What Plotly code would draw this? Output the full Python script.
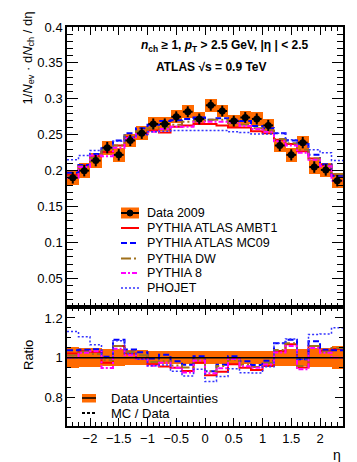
import numpy as np
import plotly.graph_objects as go
from plotly.subplots import make_subplots

# pseudorapidity bins
eta_edges = [-2.4, -2.2, -2.0, -1.8, -1.6, -1.4, -1.2, -1.0, -0.8, -0.6, -0.4, -0.2,
             0.0, 0.2, 0.4, 0.6, 0.8, 1.0, 1.2, 1.4, 1.6, 1.8, 2.0, 2.2, 2.4]
eta = [-2.3, -2.1, -1.9, -1.7, -1.5, -1.3, -1.1, -0.9, -0.7, -0.5, -0.3, -0.1,
       0.1, 0.3, 0.5, 0.7, 0.9, 1.1, 1.3, 1.5, 1.7, 1.9, 2.1, 2.3]

# data 2009
data = [0.190, 0.200, 0.214, 0.232, 0.222, 0.242, 0.252, 0.265, 0.265, 0.275, 0.282, 0.272,
        0.291, 0.283, 0.269, 0.274, 0.272, 0.263, 0.235, 0.222, 0.239, 0.205, 0.201, 0.186]
err_tot = [0.0105, 0.010, 0.010, 0.0098, 0.0098, 0.0095, 0.0095, 0.0093, 0.0092, 0.0092, 0.009, 0.009,
           0.009, 0.009, 0.009, 0.0092, 0.0092, 0.0093, 0.0095, 0.0095, 0.0098, 0.010, 0.010, 0.0105]
err_stat = [0.008, 0.008, 0.008, 0.008, 0.008, 0.0078, 0.0078, 0.0077, 0.0077, 0.0076, 0.0076, 0.0076,
            0.0076, 0.0076, 0.0076, 0.0076, 0.0077, 0.0077, 0.0078, 0.0078, 0.008, 0.008, 0.008, 0.008]

# MC predictions
ambt1 = [0.194, 0.207, 0.220, 0.226, 0.235, 0.247, 0.251, 0.256, 0.253, 0.261, 0.263, 0.265,
         0.265, 0.263, 0.260, 0.260, 0.255, 0.252, 0.243, 0.237, 0.227, 0.217, 0.208, 0.194]
mc09 = [0.197, 0.208, 0.223, 0.233, 0.242, 0.252, 0.259, 0.264, 0.269, 0.270, 0.272, 0.274,
        0.271, 0.273, 0.271, 0.269, 0.262, 0.259, 0.252, 0.242, 0.237, 0.222, 0.209, 0.193]
dw = [0.192, 0.206, 0.218, 0.229, 0.235, 0.249, 0.255, 0.259, 0.260, 0.264, 0.268, 0.269,
      0.271, 0.271, 0.266, 0.264, 0.259, 0.256, 0.244, 0.238, 0.229, 0.217, 0.207, 0.195]
pythia8 = [0.190, 0.205, 0.221, 0.220, 0.232, 0.245, 0.251, 0.254, 0.258, 0.261, 0.261, 0.268,
           0.268, 0.268, 0.267, 0.262, 0.258, 0.254, 0.241, 0.235, 0.225, 0.215, 0.206, 0.186]
phojet = [0.215, 0.221, 0.228, 0.232, 0.241, 0.247, 0.250, 0.254, 0.255, 0.256, 0.256, 0.256,
          0.256, 0.256, 0.254, 0.253, 0.251, 0.251, 0.252, 0.243, 0.237, 0.229, 0.225, 0.214]

ORANGE = "#ff6a00"
FONT = "Liberation Sans"

mc_styles = [
    ("PYTHIA ATLAS AMBT1", ambt1, "#ff0000", "solid", 2),
    ("PYTHIA ATLAS MC09", mc09, "#0000ff", "6px,3px", 2),
    ("PYTHIA DW", dw, "#a0701a", "10px,3px,2px,3px", 2),
    ("PYTHIA 8", pythia8, "#ff00ff", "5px,2px,2px,2px", 2),
    ("PHOJET", phojet, "#3333ff", "2px,2px", 1.5),
]

d = np.array(data)
et = np.array(err_tot)


def step(vals):
    vals = list(vals)
    return vals + [vals[-1]]


fig = make_subplots(rows=2, cols=1, shared_xaxes=True, vertical_spacing=0,
                    row_heights=[0.702, 0.298])

# top panel
fig.add_trace(go.Bar(x=eta, y=2 * et, base=d - et, width=0.2,
                     marker=dict(color=ORANGE, line=dict(width=0))), row=1, col=1)
for name, vals, col, dash, w in mc_styles:
    fig.add_trace(go.Scatter(x=eta_edges, y=step(vals), mode="lines", line_shape="hv",
                             line=dict(color=col, dash=dash, width=w)), row=1, col=1)
fig.add_trace(go.Scatter(x=eta, y=data, mode="markers",
                         marker=dict(color="black", size=7),
                         error_y=dict(type="data", array=err_stat, color="black", thickness=2, width=0),
                         error_x=dict(type="constant", value=0.085, color="black", thickness=2, width=0)),
              row=1, col=1)

# ratio panel
fig.add_trace(go.Bar(x=eta, y=2 * et / d, base=1 - et / d, width=0.2,
                     marker=dict(color=ORANGE, line=dict(width=0))), row=2, col=1)
fig.add_hline(y=1, line=dict(color="black", width=1.5), row=2, col=1)
for name, vals, col, dash, w in mc_styles:
    fig.add_trace(go.Scatter(x=eta_edges, y=step(np.array(vals) / d), mode="lines", line_shape="hv",
                             line=dict(color=col, dash=dash, width=w)), row=2, col=1)

# pixel -> paper helpers (plot area 59..335 x 19..418)
def px(x):
    return (x - 59) / 276.0


def py(y):
    return (418 - y) / 399.0


shapes = []
ann = []

# top legend
rows_y = [205, 220, 235, 250.5, 265, 280]
labels = ["Data 2009"] + [m[0] for m in mc_styles]
shapes.append(dict(type="rect", xref="paper", yref="paper", x0=px(113), x1=px(131),
                   y0=py(210.5), y1=py(199.5), fillcolor=ORANGE, line=dict(width=0), layer="above"))
shapes.append(dict(type="line", xref="paper", yref="paper", x0=px(113), x1=px(131),
                   y0=py(205), y1=py(205), line=dict(color="black", width=2), layer="above"))
shapes.append(dict(type="circle", xref="paper", yref="paper", x0=px(119), x1=px(125),
                   y0=py(208), y1=py(202), fillcolor="black", line=dict(color="black", width=1), layer="above"))
for (name, vals, col, dash, w), yy in zip(mc_styles, rows_y[1:]):
    shapes.append(dict(type="line", xref="paper", yref="paper", x0=px(113), x1=px(131),
                       y0=py(yy), y1=py(yy), line=dict(color=col, dash=dash, width=w), layer="above"))
for lab, yy in zip(labels, rows_y):
    ann.append(dict(text=lab, xref="paper", yref="paper", x=px(137), y=py(yy),
                    xanchor="left", yanchor="middle", showarrow=False,
                    font=dict(family=FONT, size=12.5, color="black")))

# ratio legend
shapes.append(dict(type="rect", xref="paper", yref="paper", x0=px(74), x1=px(88),
                   y0=py(394.5), y1=py(386), fillcolor=ORANGE, line=dict(width=0), layer="above"))
shapes.append(dict(type="line", xref="paper", yref="paper", x0=px(74), x1=px(88),
                   y0=py(390), y1=py(390), line=dict(color="black", width=1.5), layer="above"))
shapes.append(dict(type="line", xref="paper", yref="paper", x0=px(74), x1=px(88),
                   y0=py(405), y1=py(405), line=dict(color="black", dash="3px,2px", width=2), layer="above"))
ann.append(dict(text="Data Uncertainties", xref="paper", yref="paper", x=px(101), y=py(390),
                xanchor="left", yanchor="middle", showarrow=False,
                font=dict(family=FONT, size=13, color="black")))
ann.append(dict(text="MC / Data", xref="paper", yref="paper", x=px(101), y=py(405),
                xanchor="left", yanchor="middle", showarrow=False,
                font=dict(family=FONT, size=13, color="black")))

# header text
ann.append(dict(text="<b><i>n</i><sub>ch</sub> ≥ 1, <i>p</i><sub>T</sub> > 2.5 GeV, |η | < 2.5</b>",
                xref="paper", yref="paper", x=px(217), y=py(38), xanchor="center", yanchor="middle",
                showarrow=False, font=dict(family=FONT, size=12, color="black")))
ann.append(dict(text="<b>ATLAS √s = 0.9 TeV</b>",
                xref="paper", yref="paper", x=px(203), y=py(59), xanchor="center", yanchor="middle",
                showarrow=False, font=dict(family=FONT, size=12, color="black")))

# axis titles
ann.append(dict(text="1/<i>N</i><sub>ev</sub> · d<i>N</i><sub>ch</sub> / dη", textangle=-90,
                xref="paper", yref="paper", x=px(20), y=py(2), xanchor="center", yanchor="top",
                showarrow=False, font=dict(family=FONT, size=13, color="black")))
ann.append(dict(text="Ratio", textangle=-90,
                xref="paper", yref="paper", x=px(20), y=py(347), xanchor="center", yanchor="middle",
                showarrow=False, font=dict(family=FONT, size=13, color="black")))
ann.append(dict(text="η", xref="paper", yref="paper", x=px(335), y=py(447), xanchor="right",
                yanchor="middle", showarrow=False, font=dict(family=FONT, size=14, color="black")))

axis_common = dict(showline=True, linecolor="black", linewidth=1.5, mirror="allticks",
                   ticks="inside", tickcolor="black", showgrid=False, zeroline=False,
                   tickfont=dict(family=FONT, size=13, color="black"))

fig.update_xaxes(**axis_common, range=[-2.4, 2.4], dtick=0.5, tick0=0, ticklen=8,
                 minor=dict(dtick=0.1, ticklen=4, ticks="inside", tickcolor="black"))
fig.update_xaxes(showticklabels=False, row=1, col=1)
fig.update_xaxes(showticklabels=True, row=2, col=1)
fig.update_yaxes(**axis_common)
fig.update_yaxes(range=[0.01, 0.4], dtick=0.05, tick0=0, ticklen=11,
                 minor=dict(dtick=0.01, ticklen=6, ticks="inside", tickcolor="black"), row=1, col=1)
fig.update_yaxes(range=[0.655, 1.255], dtick=0.2, tick0=0, ticklen=8,
                 minor=dict(dtick=0.05, ticklen=4, ticks="inside", tickcolor="black"), row=2, col=1)

fig.update_layout(width=357, height=462, margin=dict(l=59, r=22, t=19, b=44),
                  paper_bgcolor="white", plot_bgcolor="white", showlegend=False,
                  barmode="overlay", bargap=0, shapes=fig.layout.shapes + tuple(shapes),
                  annotations=ann, font=dict(family=FONT, color="black"))

fig.write_html("out.html")
